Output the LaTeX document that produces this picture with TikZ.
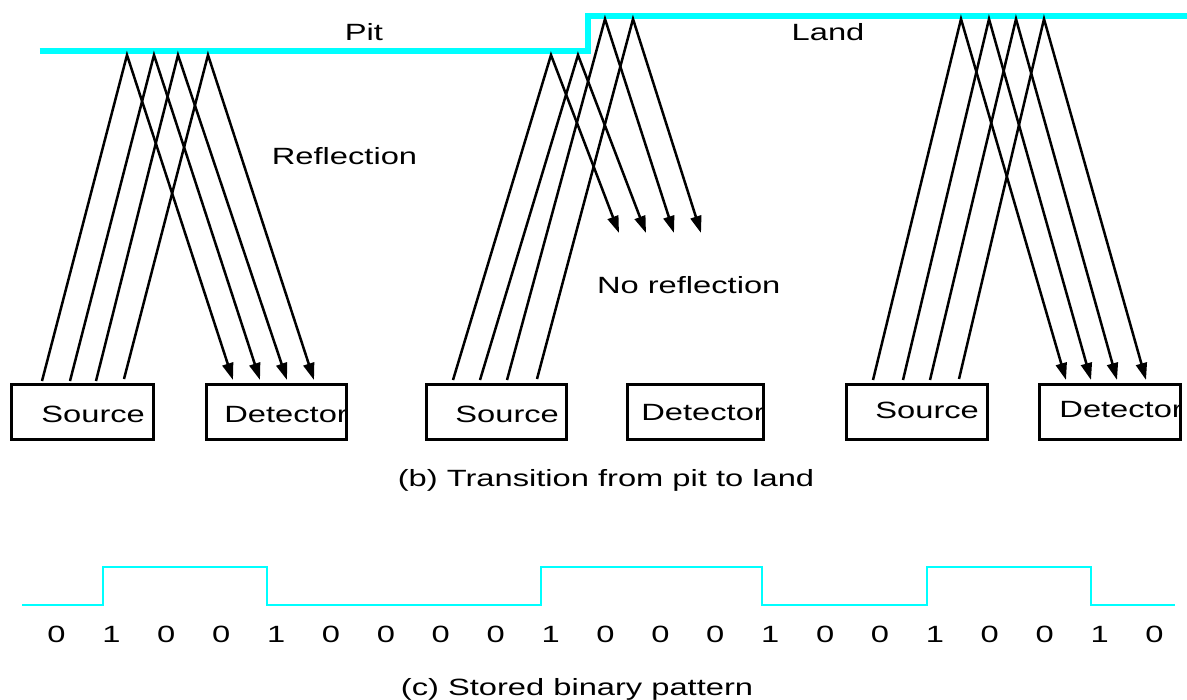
\documentclass[tikz,border=0pt]{standalone}
\usepackage{fontspec}
\setmainfont{Liberation Sans}[FakeStretch=1.39]
\usetikzlibrary{arrows.meta}
\definecolor{trackcyan}{RGB}{0,255,255}

\begin{document}
\begin{tikzpicture}[
  x=0.5pt, y=-0.5pt,
  font=\fontsize{11.75pt}{14pt}\selectfont,
  track/.style={draw=trackcyan, line width=3pt, line join=miter},
  wave/.style={draw=trackcyan, line width=1.3pt, line join=miter},
  ray/.style={draw=black, line width=1.25pt, line join=miter},
  rayarrow/.style={ray, -{Triangle[length=8.5pt,width=5.5pt]}},
  unit/.style={draw=black, line width=1.25pt, rectangle, minimum height=27.5pt, inner sep=0pt},
  lbl/.style={inner sep=0pt, anchor=base},
  inlbl/.style={inner sep=0pt, anchor=base west}
]
\useasboundingbox (0,0) rectangle (1187,700);

% ---- disc surface: pit level, step, land level ----
\coordinate (pitL) at (39.5,51);
\coordinate (stepB) at (588,51);
\coordinate (stepT) at (588,16);
\coordinate (landR) at (1187,16);
\draw[track] (pitL) -- (stepB) -- (stepT) -- (landR);

\node[lbl] (pit) at (364,41) {Pit};
\node[lbl] (land) at (828,41) {Land};
\node[lbl] (refl) at (344.5,165) {Reflection};
\node[lbl] (norefl) at (688.7,293) {No reflection};

% ---- source and detector units ----
\node[unit, minimum width=71pt, anchor=north west] (src1) at (10,383) {};
\node[unit, minimum width=70pt, anchor=north west] (det1) at (205,383) {};
\node[unit, minimum width=70pt, anchor=north west] (src2) at (425,383) {};
\node[unit, minimum width=68pt, anchor=north west] (det2) at (626,383) {};
\node[unit, minimum width=70.5pt, anchor=north west] (src3) at (845,383) {};
\node[unit, minimum width=70.5pt, anchor=north west] (det3) at (1038,383) {};

% ---- labels inside the units, cut off at the unit border ----
\begin{scope}
  \clip (src1.north west) rectangle (src1.south east);
  \node[inlbl] (t1) at (41,422) {Source};
\end{scope}
\begin{scope}
  \clip (det1.north west) rectangle (det1.south east);
  \node[inlbl] (t2) at (224,422) {Detector};
\end{scope}
\begin{scope}
  \clip (src2.north west) rectangle (src2.south east);
  \node[inlbl] (t3) at (455,422) {Source};
\end{scope}
\begin{scope}
  \clip (det2.north west) rectangle (det2.south east);
  \node[inlbl] (t4) at (641,420) {Detector};
\end{scope}
\begin{scope}
  \clip (src3.north west) rectangle (src3.south east);
  \node[inlbl] (t5) at (875,418) {Source};
\end{scope}
\begin{scope}
  \clip (det3.north west) rectangle (det3.south east);
  \node[inlbl] (t6) at (1059,417) {Detector};
\end{scope}

% ---- beam points: pit reflection ----
\coordinate (a1) at (42,381);  \coordinate (a2) at (70,381);
\coordinate (a3) at (96,381);  \coordinate (a4) at (124,379);
\coordinate (p1) at (127,55);  \coordinate (p2) at (154,55);
\coordinate (p3) at (178,55);  \coordinate (p4) at (208,55);
\coordinate (q1) at (233,380); \coordinate (q2) at (260,380);
\coordinate (q3) at (287,380); \coordinate (q4) at (314,380);
\foreach \i in {1,...,4} \draw[rayarrow] (a\i) -- (p\i) -- (q\i);

% ---- beam points: pit-to-land step ----
\coordinate (b1) at (453,380); \coordinate (b2) at (480,380);
\coordinate (b3) at (507,380); \coordinate (b4) at (537,379);
\coordinate (r1) at (551,55);  \coordinate (r2) at (578,55);
\coordinate (r3) at (605,19);  \coordinate (r4) at (633,19);
\coordinate (u1) at (619,233); \coordinate (u2) at (646,233);
\coordinate (u3) at (674,233); \coordinate (u4) at (701,233);
\foreach \i in {1,...,4} \draw[rayarrow] (b\i) -- (r\i) -- (u\i);

% ---- beam points: land reflection ----
\coordinate (c1) at (873,380); \coordinate (c2) at (903,380);
\coordinate (c3) at (930,380); \coordinate (c4) at (959,379);
\coordinate (s1) at (961,19);  \coordinate (s2) at (989,19);
\coordinate (s3) at (1016,19); \coordinate (s4) at (1044,19);
\coordinate (v1) at (1066,380); \coordinate (v2) at (1091,380);
\coordinate (v3) at (1117,380); \coordinate (v4) at (1146,380);
\foreach \i in {1,...,4} \draw[rayarrow] (c\i) -- (s\i) -- (v\i);

\node[lbl] (capb) at (606,486) {(b) Transition from pit to land};

% ---- stored binary pattern ----
\coordinate (w0) at (22,605);
\coordinate (wE) at (1175,605);
\draw[wave] (w0) -- (103,605) -- (103,567) -- (267,567) -- (267,605)
  -- (541,605) -- (541,567) -- (762,567) -- (762,605)
  -- (927,605) -- (927,567) -- (1091,567) -- (1091,605) -- (wE);

\foreach \d [count=\k from 0] in {0,1,0,0,1,0,0,0,0,1,0,0,0,1,0,0,1,0,0,1,0}
  \node[lbl] (bit\k) at ({56.5+54.9*\k},642) {\d};

\node[lbl] (capc) at (577,695) {(c) Stored binary pattern};
\end{tikzpicture}
\end{document}
